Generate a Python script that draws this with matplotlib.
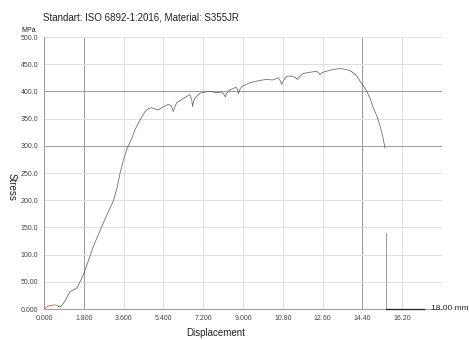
import matplotlib
matplotlib.use("Agg")
import matplotlib.pyplot as plt

# Data (displacement in mm, stress in MPa)
start_x = [0.0, 0.08, 0.2, 0.42, 0.55, 0.65]
start_y = [0.0, 2.0, 5.5, 7.4, 7.0, 5.0]

curve_x = [0.65, 0.72, 0.8, 0.95, 1.18, 1.33, 1.48, 1.63, 1.78, 2.0, 2.23, 2.45, 2.68,
           2.9, 3.13, 3.3, 3.44, 3.6, 3.74, 3.95, 4.12, 4.35, 4.57, 4.72, 4.87, 5.0,
           5.17, 5.4, 5.62, 5.75, 5.85, 5.92, 6.0, 6.3, 6.6, 6.68, 6.72, 6.77, 6.83,
           7.06, 7.3, 7.5, 7.75, 7.96, 8.1, 8.2, 8.28, 8.41, 8.55, 8.68, 8.75, 8.79,
           8.85, 8.94, 9.32, 9.74, 10.07, 10.35, 10.6, 10.68, 10.75, 10.85, 10.98,
           11.2, 11.35, 11.46, 11.6, 11.73, 12.0, 12.33, 12.42, 12.48, 12.6, 12.94,
           13.2, 13.39, 13.69, 13.85, 13.99, 14.15, 14.29, 14.45, 14.6, 14.75, 14.89,
           15.05, 15.2, 15.32, 15.42]
curve_y = [5.0, 4.0, 6.0, 15.0, 32.0, 35.0, 38.0, 50.0, 63.0, 88.0, 115.0, 136.0, 158.0,
           178.0, 198.0, 222.0, 250.0, 275.0, 293.0, 312.0, 330.0, 348.0, 363.0, 368.0,
           370.0, 368.0, 366.0, 372.0, 376.0, 374.0, 363.0, 372.0, 379.0, 387.0, 394.0,
           385.0, 372.0, 382.0, 388.0, 397.0, 399.0, 400.0, 398.0, 398.0, 397.0, 390.0,
           398.0, 403.0, 405.0, 408.0, 404.0, 396.0, 403.0, 409.0, 416.0, 420.0, 422.0,
           421.0, 425.0, 420.0, 413.0, 421.0, 428.0, 428.0, 426.0, 422.0, 429.0, 433.0,
           435.0, 437.0, 434.0, 431.0, 435.0, 439.0, 441.0, 442.0, 440.0, 438.0, 434.0,
           428.0, 419.0, 410.0, 400.0, 387.0, 370.0, 355.0, 336.0, 317.0, 296.0]

break_x = [15.48, 15.48, 17.2]
break_y = [140.0, 0.0, 0.0]

x_ticks = [0.0, 1.8, 3.6, 5.4, 7.2, 9.0, 10.8, 12.6, 14.4, 16.2, 18.0]
x_labels = ["0.000", "1.800", "3.600", "5.400", "7.200", "9.000", "10.80", "12.60",
            "14.40", "16.20", ""]
y_ticks = [0, 50, 100, 150, 200, 250, 300, 350, 400, 450, 500]
y_labels = ["0.000", "50.00", "100.0", "150.0", "200.0", "250.0", "300.0", "350.0",
            "400.0", "450.0", "500.0"]

plt.rcParams['font.family'] = ['Liberation Sans', 'DejaVu Sans']

fig = plt.figure(figsize=(4.69, 3.40), dpi=100)
ax = fig.add_axes([44 / 469, 1 - 309 / 340, 398 / 469, 272 / 340])

# grid: a few lines come out darker in the reference
for xv in x_ticks:
    c = "#9a9a9a" if xv in (1.8, 14.4) else "#e0e0e0"
    ax.axvline(xv, color=c, lw=0.7, zorder=0)
for yv in y_ticks:
    c = "#9a9a9a" if yv in (300, 400) else "#e0e0e0"
    ax.axhline(yv, color=c, lw=0.7, zorder=0)

ax.plot(curve_x, curve_y, color="#666666", lw=0.55)
ax.plot(start_x, start_y, color="#d04848", lw=0.55)
ax.plot(break_x[:2], break_y[:2], color="#8a8a8a", lw=0.6)
ax.plot(break_x[1:], break_y[1:], color="#222222", lw=0.9, zorder=4, clip_on=False)

ax.set_xlim(0, 18)
ax.set_ylim(0, 500)
ax.set_xticks(x_ticks)
ax.set_xticklabels(x_labels)
ax.set_yticks(y_ticks)
ax.set_yticklabels(y_labels)
ax.tick_params(length=0, labelsize=5, colors="#444444", pad=4)

for s in ax.spines.values():
    s.set_visible(False)
ax.spines["left"].set_visible(True)
ax.spines["left"].set_color("#a0a0a0")
ax.spines["left"].set_linewidth(0.8)
ax.spines["bottom"].set_visible(True)
ax.spines["bottom"].set_color("#a0a0a0")
ax.spines["bottom"].set_linewidth(0.8)

fig.text(43 / 469, 1 - 17 / 340, "Standart: ISO 6892-1:2016, Material: S355JR",
         fontsize=7, color="#222222", va="center", ha="left")
fig.text(29 / 469, 1 - 30 / 340, "MPa", fontsize=5, color="#222222", va="center", ha="center")
fig.text(12 / 469, 1 - 187 / 340, "Stress", fontsize=7, rotation=270, color="#222222",
         va="center", ha="center")
fig.text(216 / 469, 1 - 333 / 340, "Displacement", fontsize=7, color="#222222",
         va="center", ha="center")
fig.text(450 / 469, 1 - 309 / 340, "18.00 mm", fontsize=6, color="#222222",
         va="center", ha="center")

fig.savefig("out.png", dpi=100)
